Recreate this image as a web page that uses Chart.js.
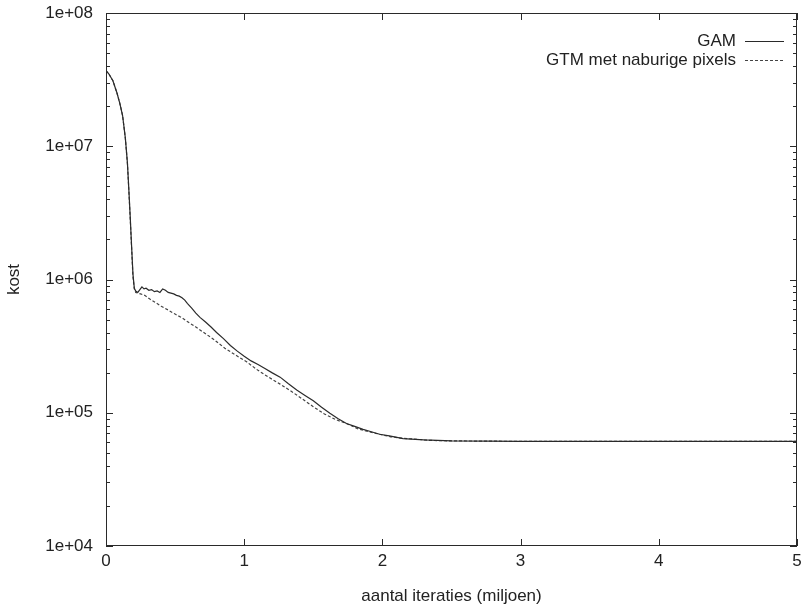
<!DOCTYPE html>
<html>
<head>
  <meta charset="utf-8">
  <title>Kost per iteratie</title>
  <style>
    body {
      margin: 0;
      background: #fff;
    }
    #wrap {
      width: 802px;
      height: 607px;
    }
  </style>
</head>
<body>
  <div id="wrap">
    <canvas id="kostChart" width="802" height="607"></canvas>
  </div>

  <script src="https://cdn.jsdelivr.net/npm/chart.js"></script>
  <script>
    // aantal iteraties (miljoen) en kost
    const iterGAM = [0.00, 0.02, 0.05, 0.08, 0.10, 0.12, 0.14, 0.155, 0.165, 0.175, 0.185, 0.195,
      0.205, 0.215, 0.23, 0.245, 0.26, 0.275, 0.29, 0.31, 0.33, 0.35, 0.37, 0.39, 0.41, 0.43,
      0.45, 0.47, 0.49, 0.51, 0.53, 0.55, 0.57, 0.59, 0.62, 0.65, 0.68, 0.72, 0.76, 0.80, 0.85,
      0.90, 0.95, 1.00, 1.05, 1.10, 1.15, 1.20, 1.26, 1.32, 1.38, 1.44, 1.50, 1.56, 1.62, 1.68,
      1.74, 1.80, 1.86, 1.92, 1.98, 2.05, 2.15, 2.30, 2.50, 3.00, 4.00, 5.00];
    const kostGAM = [3.7e7, 3.5e7, 3.1e7, 2.5e7, 2.1e7, 1.7e7, 1.15e7, 7.5e6, 4.8e6, 3.0e6, 1.8e6, 1.1e6,
      8.6e5, 8.2e5, 8.0e5, 8.4e5, 8.8e5, 8.5e5, 8.6e5, 8.3e5, 8.4e5, 8.1e5, 8.2e5, 8.0e5, 8.5e5, 8.3e5,
      8.0e5, 7.9e5, 7.8e5, 7.6e5, 7.5e5, 7.3e5, 7.0e5, 6.6e5, 6.1e5, 5.6e5, 5.2e5, 4.8e5, 4.4e5, 4.0e5, 3.6e5,
      3.2e5, 2.9e5, 2.65e5, 2.45e5, 2.3e5, 2.15e5, 2.0e5, 1.85e5, 1.65e5, 1.48e5, 1.35e5, 1.23e5, 1.1e5, 9.9e4, 9.0e4,
      8.3e4, 7.9e4, 7.5e4, 7.2e4, 6.9e4, 6.7e4, 6.4e4, 6.25e4, 6.15e4, 6.1e4, 6.1e4, 6.1e4];

    const iterGTM = [0.00, 0.02, 0.05, 0.08, 0.10, 0.12, 0.14, 0.155, 0.165, 0.175, 0.185, 0.195,
      0.205, 0.215, 0.23, 0.25, 0.28, 0.32, 0.36, 0.40, 0.45, 0.50, 0.55, 0.60, 0.65, 0.70, 0.78,
      0.86, 0.94, 1.02, 1.10, 1.18, 1.26, 1.34, 1.42, 1.50, 1.58, 1.66, 1.74, 1.82, 1.90, 1.98,
      2.06, 2.14, 2.22, 2.35, 2.50, 3.00, 5.00];
    const kostGTM = [3.7e7, 3.5e7, 3.1e7, 2.5e7, 2.1e7, 1.7e7, 1.15e7, 7.4e6, 4.7e6, 2.9e6, 1.75e6, 1.05e6,
      8.5e5, 8.0e5, 7.9e5, 7.8e5, 7.6e5, 7.1e5, 6.7e5, 6.3e5, 5.9e5, 5.5e5, 5.15e5, 4.75e5, 4.4e5, 4.05e5, 3.55e5,
      3.05e5, 2.7e5, 2.4e5, 2.08e5, 1.84e5, 1.64e5, 1.45e5, 1.27e5, 1.11e5, 9.8e4, 8.9e4, 8.3e4, 7.6e4, 7.2e4, 6.9e4,
      6.6e4, 6.45e4, 6.35e4, 6.2e4, 6.15e4, 6.1e4, 6.1e4];

    const xTicks = [0, 1, 2, 3, 4, 5];
    const yDecades = [1e4, 1e5, 1e6, 1e7, 1e8];
    const legendLabels = ['GAM', 'GTM met naburige pixels'];

    const lineColor = '#2a2a2a';
    const font = { family: "'Liberation Sans', Arial, sans-serif", size: 17 };

    function toPoints(xs, ys) {
      return xs.map((x, i) => ({ x: x, y: ys[i] }));
    }

    // gnuplot-achtige streepjes naar binnen, kader en legenda in de grafiek
    const framePlugin = {
      id: 'frame',
      afterDraw(chart) {
        const ctx = chart.ctx;
        const a = chart.chartArea;
        const xs = chart.scales.x;
        const ys = chart.scales.y;
        ctx.save();
        ctx.strokeStyle = lineColor;
        ctx.lineWidth = 1;
        ctx.strokeRect(a.left + 0.5, a.top + 0.5, a.right - a.left - 1, a.bottom - a.top - 1);

        ctx.beginPath();
        xTicks.forEach(v => {
          const px = Math.round(xs.getPixelForValue(v)) + 0.5;
          ctx.moveTo(px, a.bottom); ctx.lineTo(px, a.bottom - 7);
          ctx.moveTo(px, a.top); ctx.lineTo(px, a.top + 7);
        });
        yDecades.forEach((d, i) => {
          const py = Math.round(ys.getPixelForValue(d)) + 0.5;
          ctx.moveTo(a.left, py); ctx.lineTo(a.left + 7, py);
          ctx.moveTo(a.right, py); ctx.lineTo(a.right - 7, py);
          if (i < yDecades.length - 1) {
            for (let m = 2; m <= 9; m++) {
              const pm = Math.round(ys.getPixelForValue(d * m)) + 0.5;
              ctx.moveTo(a.left, pm); ctx.lineTo(a.left + 4, pm);
              ctx.moveTo(a.right, pm); ctx.lineTo(a.right - 4, pm);
            }
          }
        });
        ctx.stroke();

        // legenda
        ctx.font = font.size + 'px ' + font.family;
        ctx.fillStyle = '#222';
        ctx.textAlign = 'right';
        ctx.textBaseline = 'middle';
        chart.data.datasets.forEach((ds, i) => {
          const y = 41 + i * 19;
          ctx.fillText(legendLabels[i], 736, y);
          ctx.beginPath();
          ctx.setLineDash(ds.borderDash || []);
          ctx.strokeStyle = ds.borderColor;
          ctx.moveTo(745, Math.round(y) + 0.5);
          ctx.lineTo(784, Math.round(y) + 0.5);
          ctx.stroke();
        });
        ctx.restore();
      }
    };

    new Chart(document.getElementById('kostChart'), {
      type: 'line',
      data: {
        datasets: [
          {
            label: legendLabels[0],
            data: toPoints(iterGAM, kostGAM),
            borderColor: lineColor,
            borderWidth: 1.2,
            pointRadius: 0,
            tension: 0
          },
          {
            label: legendLabels[1],
            data: toPoints(iterGTM, kostGTM),
            borderColor: '#444',
            borderWidth: 1.2,
            borderDash: [3, 2],
            pointRadius: 0,
            tension: 0
          }
        ]
      },
      options: {
        responsive: false,
        animation: false,
        layout: { padding: { left: 4, top: 13, right: 5, bottom: 0 } },
        plugins: {
          legend: { display: false },
          tooltip: { enabled: false }
        },
        scales: {
          x: {
            type: 'linear',
            min: 0,
            max: 5,
            afterFit(scale) {
              scale.height = 61;
              scale.paddingLeft = 0;
              scale.paddingRight = 0;
            },
            afterBuildTicks(scale) { scale.ticks = xTicks.map(v => ({ value: v })); },
            grid: { display: false, drawTicks: false },
            border: { display: false },
            ticks: { color: '#222', font: font, padding: 5, maxRotation: 0 },
            title: {
              display: true,
              text: 'aantal iteraties (miljoen)',
              color: '#222',
              font: font,
              padding: { top: 10, bottom: 0 }
            }
          },
          y: {
            type: 'logarithmic',
            min: 1e4,
            max: 1e8,
            afterFit(scale) {
              scale.width = 102;
              scale.paddingTop = 0;
              scale.paddingBottom = 0;
            },
            afterBuildTicks(scale) { scale.ticks = yDecades.map(v => ({ value: v })); },
            grid: { display: false, drawTicks: false },
            border: { display: false },
            ticks: {
              color: '#222',
              font: font,
              padding: 13,
              autoSkip: false,
              callback: v => '1e+' + String(Math.round(Math.log10(v))).padStart(2, '0')
            },
            title: {
              display: true,
              text: 'kost',
              color: '#222',
              font: font,
              padding: 0
            }
          }
        }
      },
      plugins: [framePlugin]
    });
  </script>
</body>
</html>
